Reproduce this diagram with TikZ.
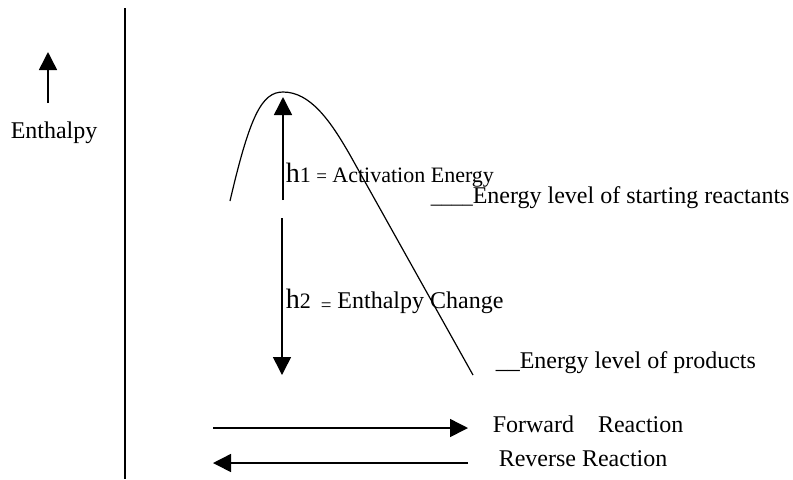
\documentclass[tikz,border=0pt]{standalone}
\usepackage{fontspec}
\setmainfont{Liberation Serif}
\usetikzlibrary{arrows.meta}

\begin{document}
\begin{tikzpicture}[->,>={Triangle[length=9pt,width=9pt]},x=0.5pt,y=-0.5pt,
                    line width=0.75pt]
    \tikzset{every node/.style={inner sep=0pt,anchor=base west,
                                font=\fontsize{12}{14}\selectfont},
             curve/.style={-,line width=0.6pt}}
    \useasboundingbox (0,0) rectangle (793,479);
    % axis and enthalpy arrow
    \coordinate (axtop) at (125,8);
    \coordinate (axbot) at (125,479);
    \coordinate (ybot) at (48,103);
    \coordinate (ytop) at (48,52);
    \node (ylab) at (10,138) {Enthalpy};
    % energy profile
    \coordinate (start) at (230,201);
    \coordinate (peak) at (283,92);
    \coordinate (bend) at (350,155);
    \coordinate (end) at (473,375);
    % h1 and h2
    \coordinate (h1bot) at (283,200);
    \coordinate (h1top) at (283,97);
    \coordinate (h2top) at (282,218);
    \coordinate (h2bot) at (282,375);
    \node (h1) at (285,182) {{\fontsize{14}{16}\selectfont h}{\fontsize{11}{13}\selectfont 1 {\fontsize{9.5}{10}\selectfont =} Activation Energy}};
    \node (h2) at (285,308) {{\fontsize{14}{16}\selectfont h}{\fontsize{11}{13}\selectfont 2}\hspace{5pt}{\fontsize{9.5}{10}\selectfont\raisebox{-1.5pt}{=}} Enthalpy Change};
    \node (react) at (430,203) {{\fontsize{10.5}{12}\selectfont\_\_\_\_}Energy level of starting reactants};
    \node (prod) at (495,368) {\_\_Energy level of products};
    % reaction direction
    \coordinate (fwdL) at (213,428);
    \coordinate (fwdR) at (468,428);
    \coordinate (revL) at (213,463);
    \coordinate (revR) at (468,463);
    \node (fwd) at (492,432) {Forward\hspace{12pt}Reaction};
    \node (rev) at (498,466) {Reverse Reaction};
    \path
    (axtop) edge[-] (axbot)
    (ybot) edge (ytop)
    (h1bot) edge (h1top)
    (h2top) edge (h2bot)
    (fwdL) edge (fwdR)
    (revR) edge (revL);
    \draw[curve] (start) .. controls (250,115) and (262,92) .. (peak)
                 .. controls (310,92) and (330,120) .. (bend) -- (end);
\end{tikzpicture}
\end{document}
